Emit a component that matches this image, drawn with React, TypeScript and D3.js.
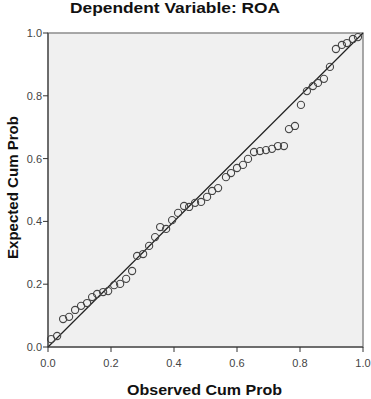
import React from "react";
import * as d3 from "d3";

const title = "Dependent Variable: ROA";
const xLabel = "Observed Cum Prob";
const yLabel = "Expected Cum Prob";
const tickValues = [0, 0.2, 0.4, 0.6, 0.8, 1.0];

const observed = [
  0.010, 0.029, 0.048, 0.067, 0.086, 0.105, 0.124, 0.140, 0.156, 0.175,
  0.191, 0.210, 0.229, 0.248, 0.267, 0.283, 0.302, 0.321, 0.340, 0.356,
  0.375, 0.394, 0.413, 0.432, 0.448, 0.467, 0.486, 0.505, 0.521, 0.540,
  0.565, 0.581, 0.600, 0.619, 0.635, 0.654, 0.673, 0.692, 0.711, 0.730,
  0.749, 0.765, 0.784, 0.803, 0.822, 0.841, 0.857, 0.876, 0.895, 0.914,
  0.933, 0.949, 0.968, 0.984,
];
const expected = [
  0.025, 0.035, 0.089, 0.096, 0.118, 0.131, 0.140, 0.159, 0.169, 0.175,
  0.178, 0.197, 0.201, 0.217, 0.242, 0.290, 0.296, 0.322, 0.350, 0.382,
  0.376, 0.404, 0.427, 0.449, 0.446, 0.459, 0.462, 0.478, 0.497, 0.506,
  0.541, 0.554, 0.570, 0.580, 0.599, 0.621, 0.624, 0.627, 0.631, 0.640,
  0.640, 0.694, 0.704, 0.771, 0.815, 0.831, 0.841, 0.854, 0.892, 0.949,
  0.962, 0.968, 0.981, 0.987,
];

const W = 371;
const H = 399;
const left = 48;
const right = 363;
const top = 33;
const bottom = 347;

export default function App() {
  const x = d3.scaleLinear().domain([0, 1]).range([left, right]);
  const y = d3.scaleLinear().domain([0, 1]).range([bottom, top]);
  const fmt = d3.format(".1f");
  const font = "'Liberation Sans', Arial, sans-serif";
  const pts = observed.map((o, i) => [o, expected[i]]);
  return (
    <svg
      width={W}
      height={H}
      style={{ position: "absolute", left: 0, top: 0, background: "#fff" }}
      fontFamily={font}
    >
      <rect x={0} y={0} width={W} height={H} fill="#fff" />
      <text
        x={175}
        y={13}
        textAnchor="middle"
        fontSize={14}
        fontWeight="bold"
        fill="#111"
        textLength={210}
        lengthAdjust="spacingAndGlyphs"
      >
        {title}
      </text>
      <rect
        x={x(0)}
        y={y(1)}
        width={x(1) - x(0)}
        height={y(0) - y(1)}
        fill="#f0f0f0"
        stroke="#8c8c8c"
        strokeWidth={1.5}
      />
      <line x1={x(0)} x2={x(1)} y1={y(0)} y2={y(1)} stroke="#222" strokeWidth={1.2} />
      {pts.map((p, i) => (
        <circle
          key={i}
          cx={x(p[0])}
          cy={y(p[1])}
          r={3.6}
          fill="none"
          stroke="#444"
          strokeWidth={1.1}
        />
      ))}
      <line x1={x(0)} x2={x(0)} y1={y(0)} y2={y(1)} stroke="#333" strokeWidth={1} />
      <line x1={x(0)} x2={x(1)} y1={y(0)} y2={y(0)} stroke="#333" strokeWidth={1} />
      {tickValues.map((t) => (
        <g key={"x" + t}>
          <line x1={x(t)} x2={x(t)} y1={y(0)} y2={y(0) + 5} stroke="#333" />
          <text x={x(t)} y={y(0) + 20} textAnchor="middle" fontSize={11} fill="#444">
            {fmt(t)}
          </text>
        </g>
      ))}
      {tickValues.map((t) => (
        <g key={"y" + t}>
          <line x1={x(0) - 5} x2={x(0)} y1={y(t)} y2={y(t)} stroke="#333" />
          <text x={x(0) - 6} y={y(t) + 4} textAnchor="end" fontSize={11} fill="#444">
            {fmt(t)}
          </text>
        </g>
      ))}
      <text
        x={204.5}
        y={395}
        textAnchor="middle"
        fontSize={15}
        fontWeight="bold"
        fill="#111"
        textLength={155}
        lengthAdjust="spacingAndGlyphs"
      >
        {xLabel}
      </text>
      <text
        transform={`translate(18,${187.5}) rotate(-90)`}
        textAnchor="middle"
        fontSize={14}
        fontWeight="bold"
        fill="#111"
        textLength={143}
        lengthAdjust="spacingAndGlyphs"
      >
        {yLabel}
      </text>
    </svg>
  );
}
